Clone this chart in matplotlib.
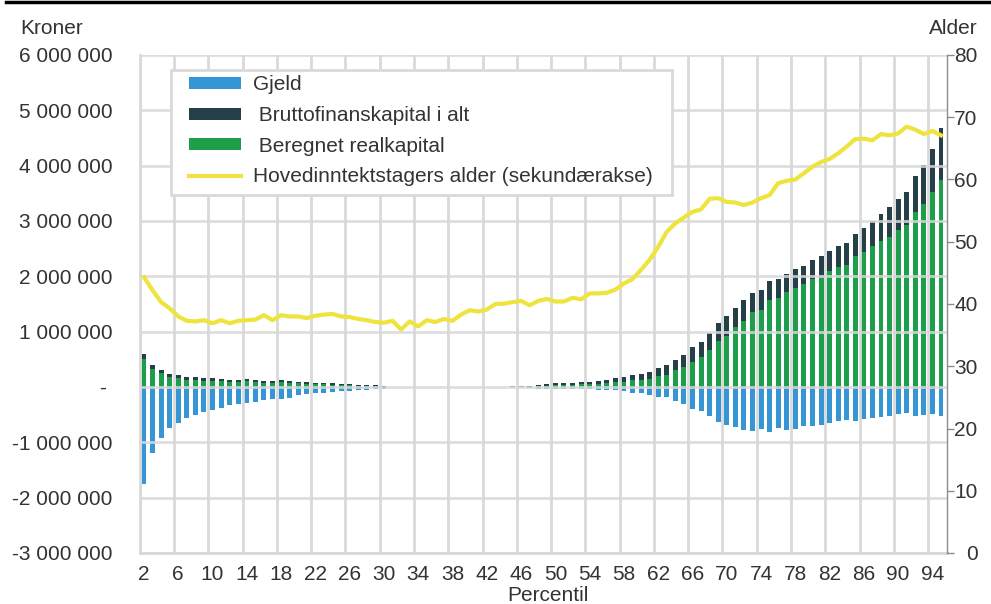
import matplotlib
matplotlib.use("Agg")
import matplotlib.pyplot as plt
from matplotlib.lines import Line2D
from matplotlib.patches import Rectangle
import numpy as np

plt.rcParams['font.family'] = ['Liberation Sans', 'DejaVu Sans']
plt.rcParams['font.size'] = 15
plt.rcParams['text.color'] = '#333333'

# percentiles 2..95
percentil = list(range(2, 96))

# values in 1000 kroner
gjeld = [
    -1760, -1190, -920, -740, -650, -560, -510, -450, -410, -380,
    -330, -310, -290, -270, -230, -210, -210, -190, -150, -130,
    -110, -100, -90, -80, -80, -60, -50, -40, -30, -8,
    -5, -4, -4, -3, -3, -3, -3, -3, -3, -3,
    -4, -4, -5, -6, -8, -15, -30, -40, -40, -40,
    -40, -40, -40, -50, -50, -60, -66, -100, -100, -140,
    -180, -180, -260, -300, -390, -440, -520, -640, -680, -730,
    -770, -800, -750, -810, -740, -780, -760, -710, -700, -680,
    -650, -620, -590, -610, -580, -560, -540, -520, -490, -470,
    -530, -500, -490, -520,
]
realkapital = [
    500, 330, 250, 180, 160, 130, 120, 110, 110, 110,
    90, 90, 100, 90, 80, 70, 85, 80, 66, 60,
    48, 48, 42, 36, 30, 24, 18, 12, 6, 2,
    1, 1, 1, 1, 1, 1, 1, 1, 1, 1,
    1, 1, 1, 2, 3, 8, 20, 20, 30, 40,
    40, 55, 50, 60, 80, 90, 90, 130, 130, 150,
    190, 220, 300, 360, 460, 540, 660, 830, 930, 1080,
    1200, 1350, 1400, 1570, 1610, 1720, 1790, 1860, 1950, 2030,
    2100, 2160, 2210, 2360, 2440, 2540, 2640, 2710, 2840, 2930,
    3160, 3310, 3520, 3750,
]
bruttofinans = [
    100, 70, 60, 55, 60, 50, 55, 50, 50, 40,
    40, 40, 40, 40, 35, 40, 35, 30, 30, 24,
    30, 24, 24, 24, 24, 18, 18, 18, 12, 5,
    3, 3, 3, 3, 3, 3, 3, 3, 3, 3,
    4, 4, 6, 8, 10, 15, 20, 30, 36, 40,
    40, 41, 46, 50, 50, 70, 90, 90, 110, 130,
    160, 170, 190, 210, 260, 280, 320, 330, 360, 350,
    370, 350, 350, 350, 350, 330, 340, 330, 340, 340,
    360, 390, 400, 410, 430, 460, 490, 540, 550, 600,
    650, 710, 790, 930,
]
alder = [
    44.3, 42.2, 40.3, 39.3, 38.0, 37.3, 37.2, 37.4, 36.9, 37.4,
    36.9, 37.3, 37.4, 37.5, 38.2, 37.4, 38.2, 38.0, 38.0, 37.75,
    38.1, 38.3, 38.4, 38.0, 37.9, 37.6, 37.4, 37.1, 37.0, 37.3,
    35.9, 37.2, 36.4, 37.4, 37.1, 37.6, 37.3, 38.3, 39.0, 38.8,
    39.1, 40.0, 40.05, 40.3, 40.5, 39.8, 40.5, 40.8, 40.4, 40.4,
    41.0, 40.75, 41.7, 41.7, 41.8, 42.3, 43.3, 44.0, 45.5, 47.1,
    49.2, 51.6, 52.95, 53.9, 54.8, 55.2, 56.9, 57.0, 56.4, 56.3,
    55.9, 56.3, 57.0, 57.5, 59.4, 59.8, 60.0, 61.0, 62.05, 62.8,
    63.3, 64.2, 65.3, 66.5, 66.55, 66.3, 67.3, 67.1, 67.4, 68.5,
    68.0, 67.3, 67.8, 67.1,
]

y_ticks = [-3000000, -2000000, -1000000, 0, 1000000, 2000000, 3000000, 4000000, 5000000, 6000000]
y_labels = ['-3 000 000', '-2 000 000', '-1 000 000', '- ', '1 000 000', '2 000 000',
            '3 000 000', '4 000 000', '5 000 000', '6 000 000']
x_ticks = list(range(2, 95, 4))

c_gjeld = '#3596d6'
c_finans = '#26404a'
c_real = '#1c9e4b'
c_alder = '#efe33e'
c_grid = '#d9d9d9'

x = np.array(percentil)
gj = np.array(gjeld) * 1000
rk = np.array(realkapital) * 1000
bf = np.array(bruttofinans) * 1000

fig = plt.figure(figsize=(9.91, 6.04), dpi=100)
ax = fig.add_axes([139.7 / 991, 1 - 553 / 604, (947 - 139.7) / 991, (553 - 55) / 604])

w = 0.58
b1 = ax.bar(x, gj, width=w, color=c_gjeld, zorder=1, label='Gjeld')
b2 = ax.bar(x, bf, width=w, bottom=rk, color=c_finans, zorder=1, label=' Bruttofinanskapital i alt')
b3 = ax.bar(x, rk, width=w, color=c_real, zorder=1, label=' Beregnet realkapital')

ax.set_xlim(1.5, 95.7)
ax.set_ylim(-3000000, 6000000)
ax.set_yticks(y_ticks)
ax.set_yticklabels(y_labels)
ax.set_xticks(x_ticks)
ax.set_xticks(np.arange(1.5, 94, 4), minor=True)
ax.tick_params(axis='both', which='both', length=0, colors='#333333', labelsize=15)
ax.tick_params(axis='y', pad=19.5)
ax.tick_params(axis='x', pad=9)
ax.grid(axis='y', which='major', color=c_grid, linewidth=2, zorder=2, alpha=0.85)
ax.grid(axis='x', which='minor', color=c_grid, linewidth=2, zorder=2)
ax.set_axisbelow(False)
for s in ['top', 'right']:
    ax.spines[s].set_visible(False)
ax.spines['left'].set_color(c_grid)
ax.spines['left'].set_linewidth(2)
ax.spines['bottom'].set_color(c_grid)
ax.spines['bottom'].set_linewidth(2)

ax2 = ax.twinx()
ln, = ax2.plot(x, alder, color=c_alder, linewidth=3, label='Hovedinntektstagers alder (sekundærakse)')
ax2.set_ylim(0, 80)
ax2.set_yticks(range(0, 81, 10))
ax2.tick_params(axis='y', length=5, width=1, color='#8c8c8c', labelcolor='#333333', labelsize=15, pad=17)
for lbl in ax2.get_yticklabels():
    lbl.set_horizontalalignment('right')
for s in ['top', 'left', 'bottom']:
    ax2.spines[s].set_visible(False)
ax2.spines['right'].set_color('#8c8c8c')
ax2.spines['right'].set_linewidth(1)

# legend frame drawn separately so the padding matches
frame = Rectangle((0.0388, 0.7189), 0.6206, 0.2510, transform=ax2.transAxes,
                  facecolor='white', edgecolor=c_grid, linewidth=2, zorder=4)
ax2.add_patch(frame)
leg = ax2.legend([b1, b2, b3, ln], [b1.get_label(), b2.get_label(), b3.get_label(), ln.get_label()],
                 loc='upper left', bbox_to_anchor=(0.0611, 0.9592), fontsize=15,
                 frameon=False, borderpad=0, labelspacing=0.56, handlelength=2.5,
                 handleheight=0.5, handletextpad=0.58, borderaxespad=0)
leg.set_zorder(5)

fig.text(20 / 991, 1 - 34 / 604, 'Kroner', ha='left', va='baseline', fontsize=15)
fig.text(978 / 991, 1 - 34 / 604, 'Alder', ha='right', va='baseline', fontsize=15)
fig.text(548 / 991, 1 - 601 / 604, 'Percentil', ha='center', va='baseline', fontsize=15)

fig.add_artist(Line2D([6 / 991, 1.0], [1 - 2 / 604, 1 - 2 / 604], color='black', linewidth=2.5,
                      transform=fig.transFigure))

fig.savefig('out.png', dpi=100)
